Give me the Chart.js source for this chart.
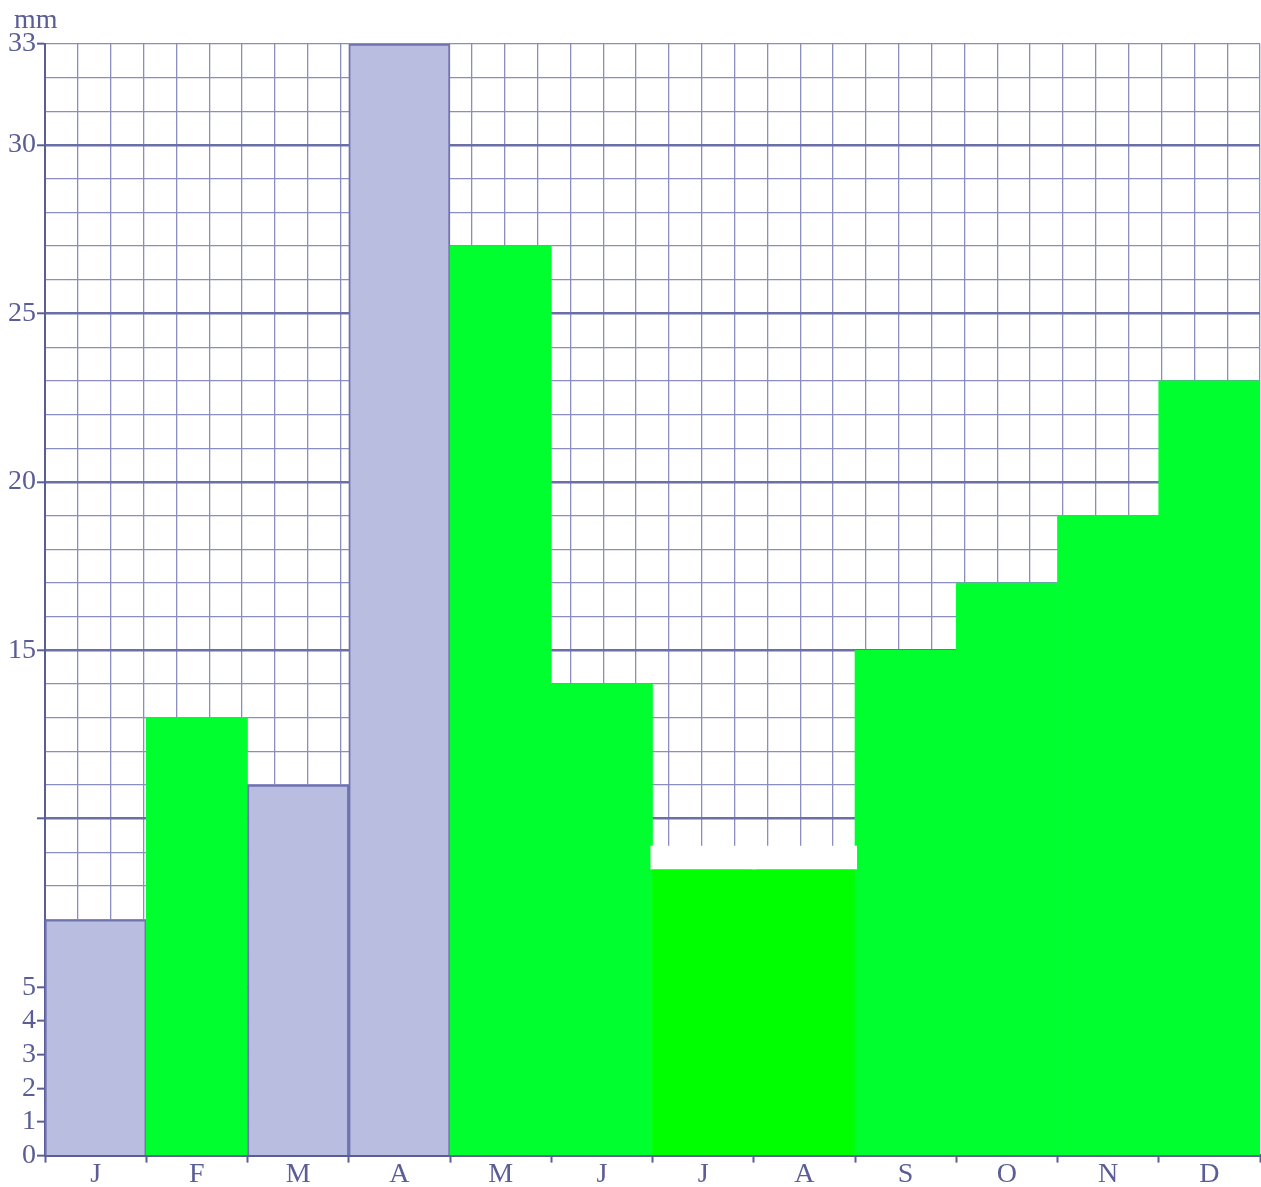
<!DOCTYPE html>
<html>
<head>
<meta charset="utf-8">
<title>mm</title>
<script src="https://cdn.jsdelivr.net/npm/chart.js@4.4.1/dist/chart.umd.min.js"></script>
<style>
    html, body { margin: 0; padding: 0; background: #fff; }
    .chart-box { width: 1261px; height: 1187px; }
</style>
</head>
<body>
<div class="chart-box"><canvas id="chartRain"></canvas></div>
<script>
// months and rainfall (mm)
const months = ['J', 'F', 'M', 'A', 'M', 'J', 'J', 'A', 'S', 'O', 'N', 'D'];
const rain = [7, 13, 11, 33, 27, 14, 8.5, 8.5, 15, 17, 19, 23];
// white erased band above J / A
const bandLow = [null, null, null, null, null, null, 8.5, 8.5, null, null, null, null];
const bandHigh = [null, null, null, null, null, null, 9.2, 9.2, null, null, null, null];
// labelled y ticks
const yLabels = [0, 1, 2, 3, 4, 5, 15, 20, 25, 30, 33];
const yMarks = [0, 1, 2, 3, 4, 5, 10, 15, 20, 25, 30, 33];

// styles
const SERIF = "'Liberation Serif', 'Times New Roman', serif";
const BLUE_FILL = '#b9bde0';
const BLUE_EDGE = '#6f73b0';
const GREEN = '#00ff2e';
const GRID = '#8a8dc0';
const GRID_MAJOR = '#6a6ea9';
const INK = '#5a5d96';
const blueMonths = [0, 2, 3];
const pureGreen = [6, 7];

function barFill(i) {
    if (blueMonths.includes(i)) return BLUE_FILL;
    if (pureGreen.includes(i)) return '#00ff00';
    return GREEN;
}

// unit label in the top-left corner
const unitLabel = {
    id: 'unitLabel',
    afterDraw(chart) {
        const c = chart.ctx;
        c.save();
        c.fillStyle = INK;
        c.font = "28px " + SERIF;
        c.textBaseline = 'alphabetic';
        c.fillText('mm', 14, 28);
        c.restore();
    }
};

const ctx = document.getElementById('chartRain');

new Chart(ctx, {
    type: 'bar',
    data: {
        labels: months,
        datasets: [
            {
                label: 'mm',
                data: rain,
                backgroundColor: rain.map((v, i) => barFill(i)),
                borderColor: rain.map((v, i) => blueMonths.includes(i) ? BLUE_EDGE : 'rgba(0,0,0,0)'),
                borderWidth: rain.map((v, i) => blueMonths.includes(i) ? 2 : 0),
                borderSkipped: 'bottom',
                barPercentage: 1,
                categoryPercentage: 1,
                grouped: false,
                order: 2
            },
            {
                label: 'band',
                data: bandLow.map((v, i) => v === null ? null : [v, bandHigh[i]]),
                backgroundColor: '#ffffff',
                borderWidth: 0,
                barPercentage: 1.04,
                categoryPercentage: 1,
                grouped: false,
                order: 1
            }
        ]
    },
    plugins: [unitLabel],
    options: {
        responsive: true,
        maintainAspectRatio: false,
        animation: false,
        layout: { padding: { left: 0, right: 1, top: 44, bottom: 0 } },
        plugins: {
            legend: { display: false },
            tooltip: { enabled: false },
            title: { display: false }
        },
        scales: {
            x: {
                type: 'category',
                offset: true,
                grid: {
                    offset: true,
                    drawOnChartArea: false,
                    drawTicks: true,
                    tickLength: 7,
                    tickColor: INK,
                    tickWidth: 2
                },
                border: { display: true, color: INK, width: 3 },
                ticks: {
                    color: INK,
                    padding: 1,
                    font: { family: SERIF, size: 28, lineHeight: 0.8 }
                }
            },
            x2: {
                type: 'linear',
                position: 'top',
                min: 0,
                max: 36,
                grid: {
                    color: GRID,
                    lineWidth: 1.3,
                    drawTicks: false
                },
                border: { display: false },
                ticks: { display: false, stepSize: 1 }
            },
            y: {
                min: 0,
                max: 33,
                afterFit(scale) { scale.width = 45; },
                afterBuildTicks(scale) {
                    scale.ticks = [];
                    for (let v = 0; v <= 33; v++) scale.ticks.push({ value: v });
                },
                grid: {
                    color: c => c.tick && c.tick.value % 5 === 0 ? GRID_MAJOR : GRID,
                    lineWidth: c => c.tick && c.tick.value % 5 === 0 && c.tick.value > 0 ? 2.6 : 1.3,
                    tickLength: 8,
                    tickColor: c => c.tick && yMarks.includes(c.tick.value) ? INK : 'rgba(0,0,0,0)',
                    tickWidth: 2
                },
                border: { display: true, color: INK, width: 2 },
                ticks: {
                    color: INK,
                    padding: 1,
                    autoSkip: false,
                    font: { family: SERIF, size: 28 },
                    callback: v => yLabels.includes(v) ? String(v) : ''
                }
            }
        }
    }
});
</script>
</body>
</html>
